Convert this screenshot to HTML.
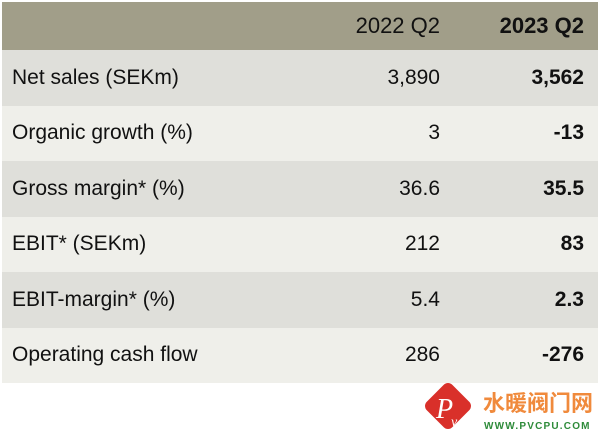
<!DOCTYPE html>
<html><head><meta charset="utf-8"><style>
html,body{margin:0;padding:0;background:#fff;width:600px;height:436px;overflow:hidden;font-family:"Liberation Sans","Noto Sans CJK SC",sans-serif;}
#tbl{position:absolute;left:2px;top:2px;width:596px;}
.row{position:relative;height:55.5px;font-size:21px;color:#111;}
.row span{position:absolute;top:50%;transform:translateY(-50%);white-space:nowrap;}
.lab{left:10px;}
.c1{right:158px;}
.c2{right:14px;font-weight:bold;}
.hdr{background:#a19e89;height:48px;font-size:22px;}
.odd{background:#dfdfda;}
.even{background:#efefea;}
#logo{position:absolute;left:420px;top:380px;}
</style></head><body>
<div id="tbl">
 <div class="row hdr"><span class="c1">2022 Q2</span><span class="c2">2023 Q2</span></div>
 <div class="row odd"><span class="lab">Net sales (SEKm)</span><span class="c1">3,890</span><span class="c2">3,562</span></div>
 <div class="row even"><span class="lab">Organic growth (%)</span><span class="c1">3</span><span class="c2">-13</span></div>
 <div class="row odd"><span class="lab">Gross margin* (%)</span><span class="c1">36.6</span><span class="c2">35.5</span></div>
 <div class="row even"><span class="lab">EBIT* (SEKm)</span><span class="c1">212</span><span class="c2">83</span></div>
 <div class="row odd"><span class="lab">EBIT-margin* (%)</span><span class="c1">5.4</span><span class="c2">2.3</span></div>
 <div class="row even"><span class="lab">Operating cash flow</span><span class="c1">286</span><span class="c2">-276</span></div>
</div>
<svg id="logo" width="180" height="56">
 <rect x="10" y="8" width="36" height="36" rx="6" fill="#d9302a" transform="rotate(45 28 26)"/>
 <text x="16" y="38" font-family="Liberation Serif,serif" font-style="italic" font-size="28" fill="#fff">P</text>
 <text x="31" y="46" font-family="Liberation Serif,serif" font-style="italic" font-size="14" fill="#fff">v</text>
 <text x="63" y="31" font-family="'Noto Sans CJK SC',sans-serif" font-size="22" font-weight="bold" fill="#f08a3c">水暖阀门网</text>
 <text x="64" y="49" font-family="Liberation Sans,sans-serif" font-size="10" font-weight="bold" fill="#2e8b3a" letter-spacing="1.2">WWW.PVCPU.COM</text>
</svg>
</body></html>
